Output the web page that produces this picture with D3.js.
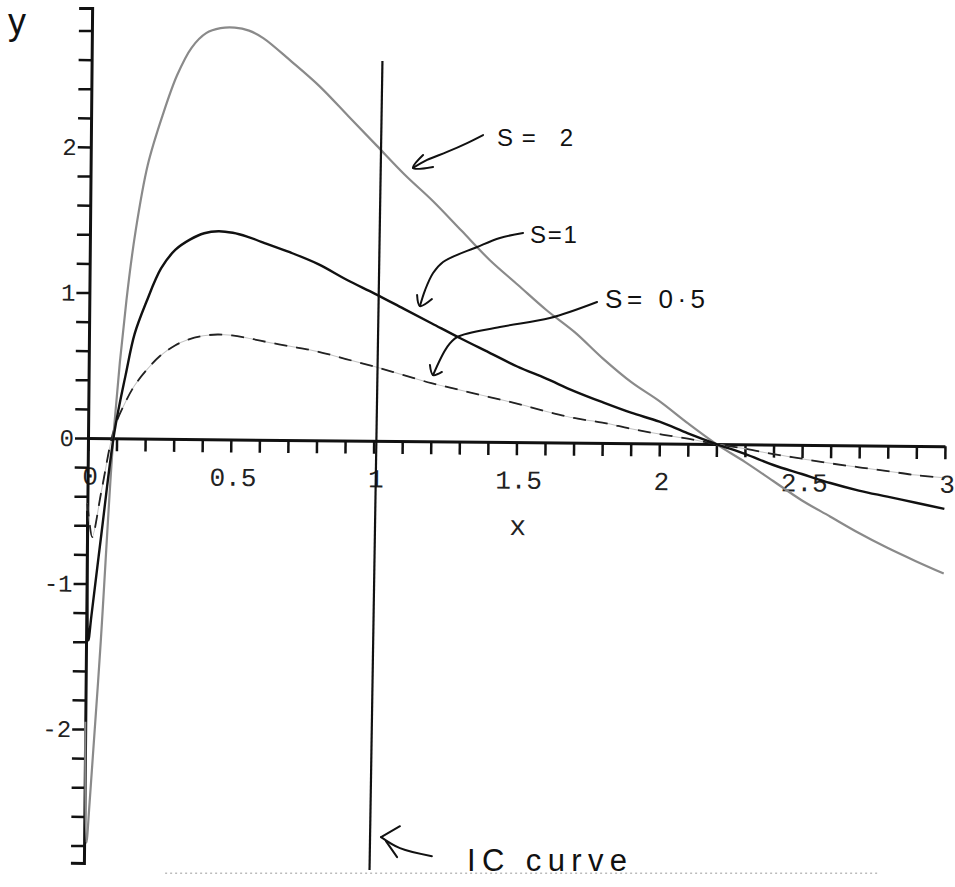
<!DOCTYPE html>
<html>
<head>
<meta charset="utf-8">
<script src="https://cdn.jsdelivr.net/npm/d3@7"></script>
<style>
	body { margin: 0; background: #fff; }
</style>
</head>
<body>
<script>
	var xs = [0, 0.008, 0.018, 0.05, 0.092, 0.13, 0.16, 0.2, 0.25, 0.3,
		0.35, 0.4, 0.45, 0.5, 0.55, 0.6, 0.7, 0.8, 0.9, 1.0,
		1.1, 1.2, 1.3, 1.4, 1.5, 1.6, 1.7, 1.8, 1.9, 2.0,
		2.1, 2.2, 2.3, 2.4, 2.5, 2.6, 2.7, 2.8, 2.9, 3.0];

	// s = 2 (grey)
	var ys2 = [-1.95, -2.78, -2.5, -1.45, 0.1, 0.95, 1.43, 1.88, 2.22, 2.50,
		2.69, 2.79, 2.825, 2.83, 2.81, 2.76, 2.60, 2.43, 2.23, 2.03,
		1.83, 1.65, 1.45, 1.25, 1.08, 0.91, 0.76, 0.58, 0.42, 0.29,
		0.14, 0.0, -0.12, -0.25, -0.38, -0.49, -0.60, -0.70, -0.79, -0.875];

	// s = 1 (black)
	var ys1 = [-0.5, -1.39, -1.22, -0.66, 0.04, 0.44, 0.72, 0.94, 1.17, 1.30,
		1.37, 1.415, 1.43, 1.42, 1.395, 1.36, 1.29, 1.21, 1.105, 1.01,
		0.91, 0.81, 0.71, 0.615, 0.52, 0.44, 0.355, 0.28, 0.21, 0.15,
		0.072, 0.0, -0.065, -0.14, -0.20, -0.26, -0.31, -0.35, -0.39, -0.43];

	// s = 0.5 (dashed)
	var ys05 = [-0.45, -0.58, -0.68, -0.35, 0.07, 0.25, 0.36, 0.465, 0.57, 0.64,
		0.685, 0.71, 0.72, 0.715, 0.70, 0.68, 0.645, 0.61, 0.56, 0.51,
		0.455, 0.40, 0.355, 0.31, 0.265, 0.215, 0.17, 0.14, 0.10, 0.065,
		0.035, 0.0, -0.03, -0.065, -0.095, -0.125, -0.15, -0.175, -0.20, -0.217];

	// the "IC curve": the vertical line at x = 1 (ends as drawn)
	var icX = [1.018, 1.0];
	var icY = [2.61, -2.95];

	var xLabelValues = [0, 0.5, 1, 1.5, 2, 2.5, 3];
	var xLabels = ["0", "0.5", "1", "1.5", "2", "2.5", "3"];
	var yLabelValues = [-2, -1, 0, 1, 2];
	var yLabels = ["-2", "-1", "0", "1", "2"];

	// handwritten notes, in data units
	var noteText = ["S= 2", "S=1", "S= 0·5", "IC curve"];
	var noteX = [1.432, 1.547, 1.81, 1.327];
	var noteY = [2.01, 1.34, 0.893, -2.976];
	var arrows = [
		[[1.383, 2.082], [1.327, 2.027], [1.257, 1.966], [1.187, 1.911], [1.138, 1.856]],
		[[1.173, 1.945], [1.138, 1.856], [1.208, 1.863]],
		[[1.523, 1.409], [1.442, 1.375], [1.362, 1.313], [1.243, 1.21], [1.208, 1.134], [1.18, 1.017], [1.162, 0.907]],
		[[1.152, 0.983], [1.162, 0.907], [1.204, 0.955]],
		[[1.782, 0.935], [1.617, 0.825], [1.442, 0.763], [1.292, 0.694], [1.257, 0.625], [1.208, 0.433]],
		[[1.197, 0.502], [1.208, 0.433], [1.239, 0.454]],
		[[1.092, -2.667], [1.026, -2.742]],
		[[1.026, -2.742], [1.092, -2.818], [1.204, -2.873]],
		[[1.043, -2.77], [1.082, -2.88]]
	];

	var W = 955, H = 887;

	var svg = d3.select('body').append('svg')
		.attr('width', W)
		.attr('height', H)
		.style('background-color', 'white');

	var x = d3.scaleLinear().domain([0, 3]).range([88, 945]);
	var y = d3.scaleLinear().domain([-2.92, 2.955]).range([863, 8]);

	// the scanned page is turned a little
	var plot = svg.append('g')
		.attr('transform', 'rotate(0.55,' + x(0) + ',' + y(0) + ')');

	var xMinor = d3.range(0, 31).map(function(i) { return i / 10; });
	var yMinor = d3.range(-14, 15).map(function(i) { return i / 5; });

	var xAxis = d3.axisBottom(x)
		.tickValues(xMinor)
		.tickSize(13)
		.tickSizeOuter(0)
		.tickPadding(15)
		.tickFormat(function(d) {
			var k = xLabelValues.indexOf(d);
			return k < 0 ? '' : xLabels[k];
		});

	var yAxis = d3.axisLeft(y)
		.tickValues(yMinor)
		.tickSize(13)
		.tickSizeOuter(13)
		.tickPadding(1)
		.tickFormat(function(d) {
			var k = yLabelValues.indexOf(d);
			return k < 0 ? '' : yLabels[k];
		});

	var gx = plot.append('g')
		.attr('transform', 'translate(0,' + y(0) + ')')
		.attr('color', '#111')
		.call(xAxis);

	var gy = plot.append('g')
		.attr('transform', 'translate(' + x(0) + ',0)')
		.attr('color', '#111')
		.call(yAxis);

	[gx, gy].forEach(function(g) {
		g.select('.domain').attr('stroke-width', 3);
		g.selectAll('.tick line').attr('stroke-width', 2.5);
		g.selectAll('.tick text')
			.attr('font-family', '"Liberation Mono", "DejaVu Sans Mono", monospace')
			.attr('fill', '#222');
	});
	gx.selectAll('.tick text').attr('font-size', 26).attr('dx', 2);
	gy.selectAll('.tick text').attr('font-size', 24);

	plot.append('text')
		.attr('x', x(1.5) + 2)
		.attr('y', y(0) + 93)
		.attr('text-anchor', 'middle')
		.attr('font-family', '"Liberation Mono", monospace')
		.attr('font-size', 28)
		.attr('fill', '#222')
		.text('x');

	//curves
	var line = d3.line()
		.x(function(d) { return x(d[0]); })
		.y(function(d) { return y(d[1]); })
		.curve(d3.curveCatmullRom.alpha(0.5));

	var pts05 = xs.map(function(v, i) { return [v, ys05[i]]; });
	var pts1 = xs.map(function(v, i) { return [v, ys1[i]]; });
	var pts2 = xs.map(function(v, i) { return [v, ys2[i]]; });

	plot.append('path')
		.attr('d', line(pts05))
		.attr('fill', 'none')
		.attr('stroke', '#c4c4c4')
		.attr('stroke-width', 1);

	plot.append('path')
		.attr('d', line(pts05))
		.attr('fill', 'none')
		.attr('stroke', '#222')
		.attr('stroke-width', 1.8)
		.attr('stroke-dasharray', '13,9');

	plot.append('path')
		.attr('d', line(pts2))
		.attr('fill', 'none')
		.attr('stroke', '#8a8a8a')
		.attr('stroke-width', 2.2);

	plot.append('path')
		.attr('d', line(pts1))
		.attr('fill', 'none')
		.attr('stroke', '#111')
		.attr('stroke-width', 2.4);

	// IC line
	plot.append('line')
		.attr('x1', x(icX[0]))
		.attr('y1', y(icY[0]))
		.attr('x2', x(icX[1]))
		.attr('y2', y(icY[1]))
		.attr('stroke', '#111')
		.attr('stroke-width', 2.2);

	// handwriting, on the paper itself (not turned)
	var notes = svg.append('g');

	var pen = d3.line()
		.x(function(d) { return x(d[0]); })
		.y(function(d) { return y(d[1]); })
		.curve(d3.curveCatmullRom);

	notes.selectAll('path.arrow')
		.data(arrows)
		.enter().append('path')
		.attr('class', 'arrow')
		.attr('d', pen)
		.attr('fill', 'none')
		.attr('stroke', '#111')
		.attr('stroke-width', 2)
		.attr('stroke-linecap', 'round')
		.attr('stroke-linejoin', 'round');

	var noteSize = [24, 24, 26, 31];
	var noteLen = [76, 47, 100, 160];

	notes.selectAll('text.note')
		.data(noteText)
		.enter().append('text')
		.attr('class', 'note')
		.attr('x', function(d, i) { return x(noteX[i]); })
		.attr('y', function(d, i) { return y(noteY[i]); })
		.attr('font-family', '"Liberation Sans", "DejaVu Sans", sans-serif')
		.attr('font-size', function(d, i) { return noteSize[i]; })
		.attr('textLength', function(d, i) { return noteLen[i]; })
		.attr('lengthAdjust', 'spacing')
		.attr('fill', '#111')
		.text(function(d) { return d; });

	notes.append('text')
		.attr('x', 8)
		.attr('y', 34)
		.attr('font-family', '"Liberation Sans", "DejaVu Sans", sans-serif')
		.attr('font-size', 36)
		.attr('fill', '#111')
		.text('y');

	// faint dotted edge left by the scanner
	notes.append('line')
		.attr('x1', x(0.27))
		.attr('x2', x(2.772))
		.attr('y1', y(-2.99))
		.attr('y2', y(-2.99))
		.attr('stroke', '#9a9a9a')
		.attr('stroke-width', 1)
		.attr('stroke-dasharray', '2,3');
</script>
</body>
</html>
